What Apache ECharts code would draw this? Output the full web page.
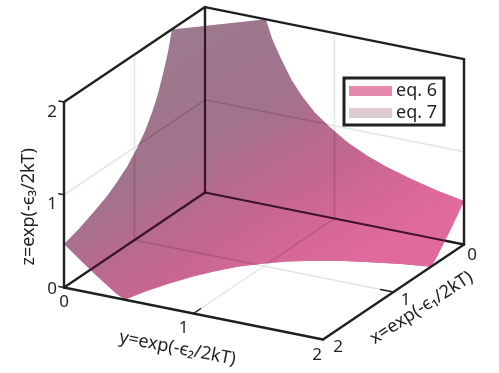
<!DOCTYPE html>
<html>
<head>
<meta charset="utf-8">
<style>html,body{margin:0;padding:0;background:#fff}#container{width:499px;height:373px}</style>
<script src="https://cdn.jsdelivr.net/npm/echarts@6/dist/echarts.min.js"></script>
</head>
<body>
<div id="container"></div>
<script>
// surface edges, [x, y, z]
var edgeX2 = [[2,0,0.47],[2,0.1,0.36],[2,0.2,0.25],[2,0.3,0.15],[2,0.4,0.05],[2,0.47,0]];
var edgeFloor = [[1.8,0.52,0],[1.6,0.59,0],[1.4,0.67,0],[1.25,0.75,0],[1.1,0.85,0],[0.97,0.97,0],[0.85,1.1,0],[0.75,1.25,0],[0.67,1.4,0],[0.59,1.6,0],[0.52,1.8,0],[0.47,2,0]];
var edgeY2 = [[0.4,2,0.05],[0.3,2,0.15],[0.2,2,0.25],[0.1,2,0.36],[0,2,0.47]];
var edgeBackRight = [[0,1.8,0.52],[0,1.6,0.59],[0,1.4,0.67],[0,1.25,0.75],[0,1.1,0.85],[0,0.97,0.97],[0,0.85,1.1],[0,0.75,1.25],[0,0.67,1.4],[0,0.59,1.6],[0,0.52,1.8],[0,0.47,2]];
var edgeTop = [[0.47,0,2]];
var edgeBackLeft = [[0.52,0,1.8],[0.59,0,1.6],[0.67,0,1.4],[0.75,0,1.25],[0.85,0,1.1],[0.97,0,0.97],[1.1,0,0.85],[1.25,0,0.75],[1.4,0,0.67],[1.6,0,0.59],[1.8,0,0.52]];
var surfaceOutline = edgeX2.concat(edgeFloor, edgeY2, edgeBackRight, edgeTop, edgeBackLeft);

// x1,y1,z1, x2,y2,z2
var gridLines = [
    [1,0,0,1,0,2],[0,1,0,0,1,2],[2,0,1,0,0,1],[0,0,1,0,2,1],
    [1,0,0,1,2,0],[0,1,0,2,1,0]
];
var backLines = [[0,0,0,0,0,2],[0,0,0,2,0,0],[0,0,0,0,2,0]];
var frontLines = [
    [2,0,0,2,0,2],[2,0,2,0,0,2],[0,0,2,0,2,2],[0,2,2,0,2,0],
    [2,0,0,2,2,0],[2,2,0,0,2,0]
];
var tickLines = [
    [2,0,0,2,-0.04,0],[2,0,1,2,-0.04,1],[2,0,2,2,-0.04,2],
    [1.9,1,0,2,1,0],[1,1.9,0,1,2,0]
];
var tickLabels = ['0', '1', '2'];
var seriesNames = ['eq. 6', 'eq. 7'];

var dark = '#1d2220';
var font = '"Noto Sans", sans-serif';

function project(api, p) {
    return api.coord([205 - 70.5 * p[0] + 129.5 * p[1], 192.5 + 47.5 * p[0] + 26 * p[1] - 92.7 * p[2]]);
}

function outlinePoints(api) {
    return surfaceOutline.map(function (p) { return project(api, p); });
}

// clipped = the part of a line that shows through the surface
function lineSeries(data, color, width, z, clipped) {
    return {
        type: 'custom',
        coordinateSystem: 'cartesian2d',
        silent: true,
        z: z,
        data: data,
        renderItem: function (params, api) {
            var a = project(api, [api.value(0), api.value(1), api.value(2)]);
            var b = project(api, [api.value(3), api.value(4), api.value(5)]);
            var el = {
                type: 'line',
                shape: {x1: a[0], y1: a[1], x2: b[0], y2: b[1]},
                style: {stroke: color, lineWidth: width, lineCap: 'round', fill: null}
            };
            if (clipped) {
                el.clipPath = {type: 'polygon', shape: {points: outlinePoints(api)}};
            }
            return el;
        }
    };
}

function surfaceSeries(name, stops, z) {
    return {
        name: name,
        type: 'custom',
        coordinateSystem: 'cartesian2d',
        silent: true,
        z: z,
        data: [[0, 0]],
        renderItem: function (params, api) {
            return {
                type: 'polygon',
                shape: {points: outlinePoints(api)},
                style: {
                    fill: new echarts.graphic.LinearGradient(172, 30, 322, 285, stops, true)
                }
            };
        }
    };
}

// [text, x, y, z, dx, dy, rotation in degrees, font size]
var textItems = [
    [tickLabels[2], 2, 0, 2, -12, 10, 0, 17],
    [tickLabels[1], 2, 0, 1, -12, 9, 0, 17],
    [tickLabels[0], 2, 0, 0, -12, 2, 0, 17],
    [tickLabels[0], 2, 0, 0, 0, 15, 0, 17],
    [tickLabels[1], 2, 1, 0, -10, 15, 0, 17],
    [tickLabels[2], 2, 2, 0, -6, 16, 0, 17],
    [tickLabels[2], 2, 2, 0, 15, 8, 0, 17],
    [tickLabels[1], 1, 2, 0, 12, 8, 0, 17],
    [tickLabels[0], 0, 2, 0, 8, 11, 0, 17],
    ['z=exp(-\u03f5\u2083/2kT)', 2, 0, 1, -35, 12, 90, 18],
    ['y=exp(-\u03f5\u2082/2kT)', 2, 1, 0, -16, 35, -11, 18],
    ['x=exp(-\u03f5\u2081/2kT)', 1, 2, 0, 28, 16, 33, 18]
];

var series = [
    lineSeries(gridLines, '#dfe7e4', 1.5, 1),
    lineSeries(backLines, dark, 2.4, 2),
    surfaceSeries(seriesNames[1], [
        {offset: 0, color: 'rgb(156,122,142)'},
        {offset: 0.4, color: 'rgb(160,114,140)'},
        {offset: 0.7, color: 'rgb(180,100,137)'},
        {offset: 1, color: 'rgb(200,96,142)'}
    ], 3),
    surfaceSeries(seriesNames[0], [
        {offset: 0, color: 'rgba(224,106,157,0)'},
        {offset: 0.4, color: 'rgba(224,106,157,0.05)'},
        {offset: 0.7, color: 'rgba(224,106,157,0.4)'},
        {offset: 1, color: 'rgba(224,106,157,1)'}
    ], 4),
    lineSeries(gridLines, 'rgba(50,15,35,0.18)', 1.5, 5, true),
    lineSeries(backLines, 'rgba(35,5,20,0.85)', 2.2, 5, true),
    lineSeries(frontLines, dark, 2.4, 6),
    lineSeries(tickLines, dark, 1.5, 6),
    {
        type: 'custom',
        coordinateSystem: 'cartesian2d',
        silent: true,
        z: 7,
        data: textItems.map(function (t, i) { return [i, 0]; }),
        renderItem: function (params, api) {
            var t = textItems[params.dataIndex];
            var pos = project(api, [t[1], t[2], t[3]]);
            return {
                type: 'text',
                x: pos[0] + t[4],
                y: pos[1] + t[5],
                rotation: t[6] * Math.PI / 180,
                style: {
                    text: t[0],
                    fill: dark,
                    font: t[7] + 'px ' + font,
                    align: 'center',
                    verticalAlign: 'middle'
                }
            };
        }
    }
];

var myChart = echarts.init(document.getElementById('container'));
var option = {
    backgroundColor: '#fff',
    animation: false,
    grid: {left: 0, right: 0, top: 0, bottom: 0},
    xAxis: {type: 'value', min: 0, max: 499, show: false},
    yAxis: {type: 'value', min: 0, max: 373, inverse: true, show: false},
    legend: {
        left: 344,
        top: 78,
        orient: 'vertical',
        selectedMode: false,
        padding: [4, 7, 3, 5],
        itemGap: 4,
        itemWidth: 43,
        itemHeight: 10,
        borderColor: dark,
        borderWidth: 3,
        backgroundColor: '#fff',
        textStyle: {color: dark, fontSize: 18, fontFamily: font, padding: [0, 0, 0, -1]},
        data: [
            {name: seriesNames[0], icon: 'rect', itemStyle: {color: '#e48aad'}},
            {name: seriesNames[1], icon: 'rect', itemStyle: {color: '#dccbd2'}}
        ]
    },
    series: series
};
myChart.setOption(option);
</script>
</body>
</html>
